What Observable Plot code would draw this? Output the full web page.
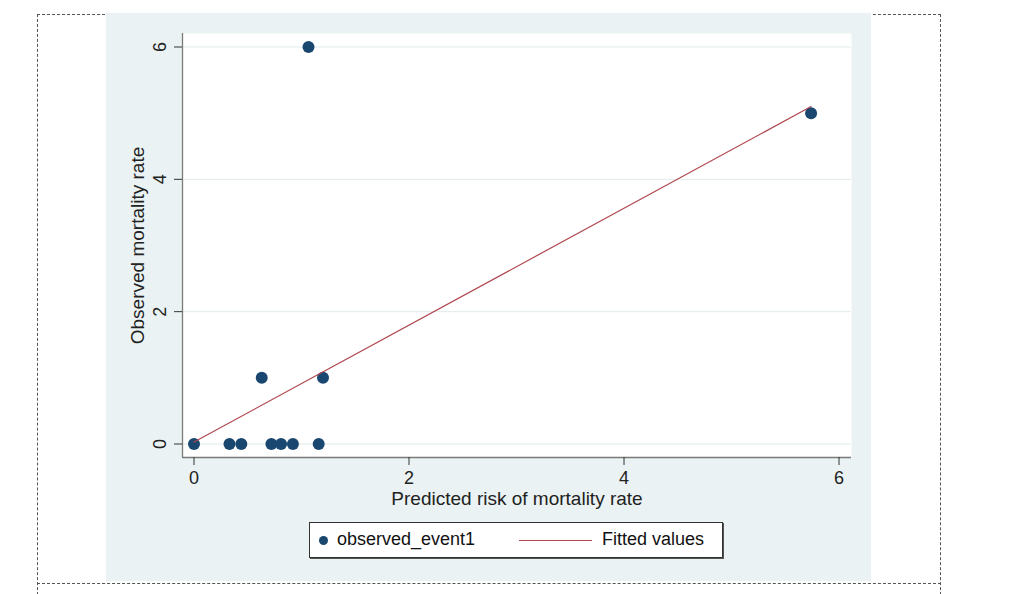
<!DOCTYPE html>
<html>
<head>
<meta charset="utf-8">
<script src="https://cdn.jsdelivr.net/npm/d3@7"></script>
<script src="https://cdn.jsdelivr.net/npm/@observablehq/plot@0.6"></script>
<style>
  body { margin: 0; background: #fff; width: 1011px; height: 594px; overflow: hidden; font-family: "Liberation Sans", Arial, sans-serif; }
  #frame { position: absolute; left: 37px; top: 14px; width: 902px; height: 600px; border-left: 1px dashed #555; border-right: 1px dashed #555; border-top: 1px dashed #555; }
  #hline { position: absolute; left: 37px; top: 583px; width: 904px; height: 0; border-top: 1px dashed #555; }
  #panel { position: absolute; left: 106px; top: 13px; width: 765px; height: 568px; background: #eaf2f3; }
  #chart { position: absolute; left: 106px; top: 13px; }
  #legend { position: absolute; left: 309px; top: 522px; width: 412px; height: 34px; background: #fff; border: 1px solid #333; box-shadow: 1px 1px 0 #555; font-size: 18px; color: #111; }
  #legend .dot { position: absolute; left: 9px; top: 13px; width: 9px; height: 9px; border-radius: 50%; background: #1a476f; }
  #legend .t1 { position: absolute; left: 27px; top: 6px; }
  #legend .ln { position: absolute; left: 209px; top: 17px; width: 73px; height: 0; border-top: 1.5px solid #b0474f; }
  #legend .t2 { position: absolute; left: 292px; top: 6px; }
</style>
</head>
<body>
<div id="frame"></div>
<div id="hline"></div>
<div id="panel"></div>
<div id="chart"></div>
<div id="legend"><span class="dot"></span><span class="t1">observed_event1</span><span class="ln"></span><span class="t2">Fitted values</span></div>
<script>
// Data
const predicted = [0, 0.33, 0.44, 0.72, 0.81, 0.92, 1.16, 0.63, 1.20, 1.065, 5.74];
const observed  = [0, 0, 0, 0, 0, 0, 0, 1, 1, 6, 5];
const fitX = [0, 5.74];
const fitY = [0.03, 5.10];
const xTicks = [0, 2, 4, 6];
const yTicks = [0, 2, 4, 6];
const xTitle = "Predicted risk of mortality rate";
const yTitle = "Observed mortality rate";

const points = predicted.map((p, i) => ({x: p, y: observed[i]}));
const fit = fitX.map((x, i) => ({x, y: fitY[i]}));
const xDomain = [-0.107, 6.116];
const yDomain = [-0.204, 6.204];

const chart = Plot.plot({
  width: 765,
  height: 505,
  marginLeft: 76,
  marginRight: 20,
  marginTop: 20,
  marginBottom: 61,
  style: {background: "transparent", fontFamily: "Liberation Sans, Arial, sans-serif", fontSize: "18px", color: "#222"},
  x: {domain: xDomain},
  y: {domain: yDomain},
  marks: [
    Plot.frame({fill: "white", stroke: null}),
    Plot.gridY(yTicks, {stroke: "#e0eaed", strokeOpacity: 1, strokeWidth: 1}),
    Plot.ruleX([xDomain[0]], {stroke: "#7a7a7a", strokeWidth: 1.3}),
    Plot.ruleY([yDomain[0]], {stroke: "#7a7a7a", strokeWidth: 1.3}),
    Plot.axisX(xTicks, {tickSize: 8, tickPadding: 6, stroke: "#333", fontSize: 18, fill: "#222", tickFormat: d3.format("d"), label: null}),
    Plot.axisY(yTicks, {tickSize: 8, tickPadding: 9, tickRotate: -90, stroke: "#333", fontSize: 18, fill: "#222", tickFormat: d3.format("d"), label: null}),
    Plot.text([xTitle], {frameAnchor: "bottom", dy: 47, textAnchor: "middle", fontSize: 19, fill: "#222"}),
    Plot.text([yTitle], {frameAnchor: "left", dx: -45, rotate: -90, textAnchor: "middle", fontSize: 19, fill: "#222"}),
    Plot.dot(points, {x: "x", y: "y", r: 6, fill: "#1a476f", stroke: null}),
    Plot.line(fit, {x: "x", y: "y", stroke: "#b0474f", strokeWidth: 1.2})
  ]
});
document.getElementById("chart").appendChild(chart);
</script>
</body>
</html>
